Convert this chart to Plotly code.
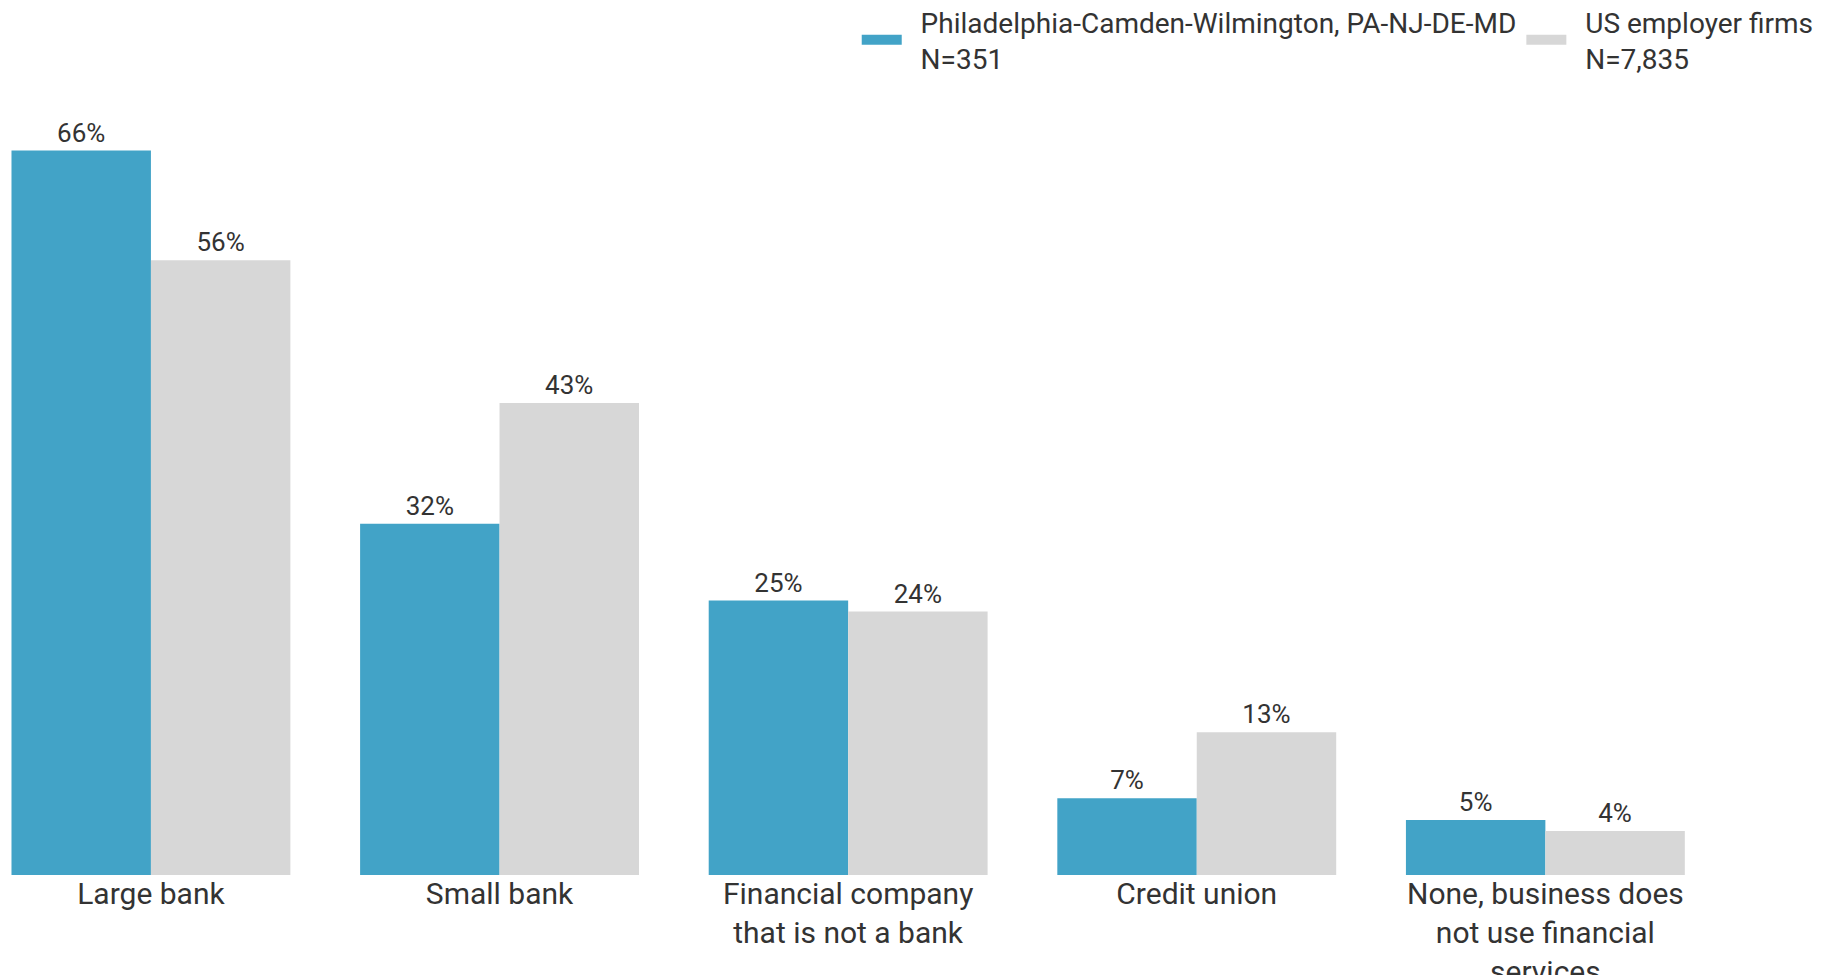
import plotly.graph_objects as go

CATEGORIAS = [
    'Large bank',
    'Small bank',
    'Financial company<br>that is not a bank',
    'Credit union',
    'None, business does<br>not use financial<br>services',
]
PHILADELPHIA = [66, 32, 25, 7, 5]
US_FIRMAS = [56, 43, 24, 13, 4]

NOME_PHILA = 'Philadelphia-Camden-Wilmington, PA-NJ-DE-MD<br>N=351'
NOME_US = 'US employer firms<br>N=7,835'

COR_AZUL = '#42A3C7'
COR_CINZA = '#D7D7D7'
COR_TEXTO = '#333333'
FONTE = 'Roboto'


def barra(nome, valores, cor):
    return go.Bar(
        name=nome,
        legendgroup=nome,
        showlegend=False,
        x=CATEGORIAS,
        y=valores,
        marker=dict(color=cor, line=dict(width=0)),
        texttemplate='%{y}%',
        textposition='outside',
        textfont=dict(size=26, color=COR_TEXTO, family=FONTE),
        cliponaxis=False,
        hovertemplate='%{x}<br>%{y}%<extra></extra>',
    )


def item_legenda(nome, cor):
    # traço vazio só para ter um símbolo de legenda mais largo;
    # espaços no início afastam o texto do símbolo
    recuo = '&nbsp;&nbsp;'
    texto = '<br>'.join(recuo + linha for linha in nome.split('<br>'))
    return go.Scatter(
        name=texto,
        legendgroup=nome,
        x=[CATEGORIAS[0]], y=[None],
        mode='lines',
        line=dict(color=cor, width=14),
        hoverinfo='skip',
    )


fig = go.Figure([
    barra(NOME_PHILA, PHILADELPHIA, COR_AZUL),
    barra(NOME_US, US_FIRMAS, COR_CINZA),
    item_legenda(NOME_PHILA, COR_AZUL),
    item_legenda(NOME_US, COR_CINZA),
])

fig.update_layout(
    width=1818,
    height=967,
    barmode='group',
    bargap=0.2,
    bargroupgap=0,
    plot_bgcolor='white',
    paper_bgcolor='white',
    font=dict(family=FONTE, color=COR_TEXTO),
    margin=dict(l=0, r=0, t=92, b=100, autoexpand=False),
    legend=dict(
        orientation='h',
        xanchor='right', x=0.996,
        yanchor='top', y=1.133,
        font=dict(size=28, color=COR_TEXTO, family=FONTE),
        itemwidth=40,
        bgcolor='rgba(0,0,0,0)',
    ),
    showlegend=True,
)
fig.update_xaxes(
    range=[-0.410, 4.805],
    showgrid=False, showline=False, zeroline=False,
    ticks='', tickfont=dict(size=30, color=COR_TEXTO, family=FONTE),
    ticklabelstandoff=-2,
    automargin=False,
)
fig.update_yaxes(
    range=[0, 70.6],
    visible=False, showgrid=False, zeroline=False,
)

fig.write_html('out.html')
